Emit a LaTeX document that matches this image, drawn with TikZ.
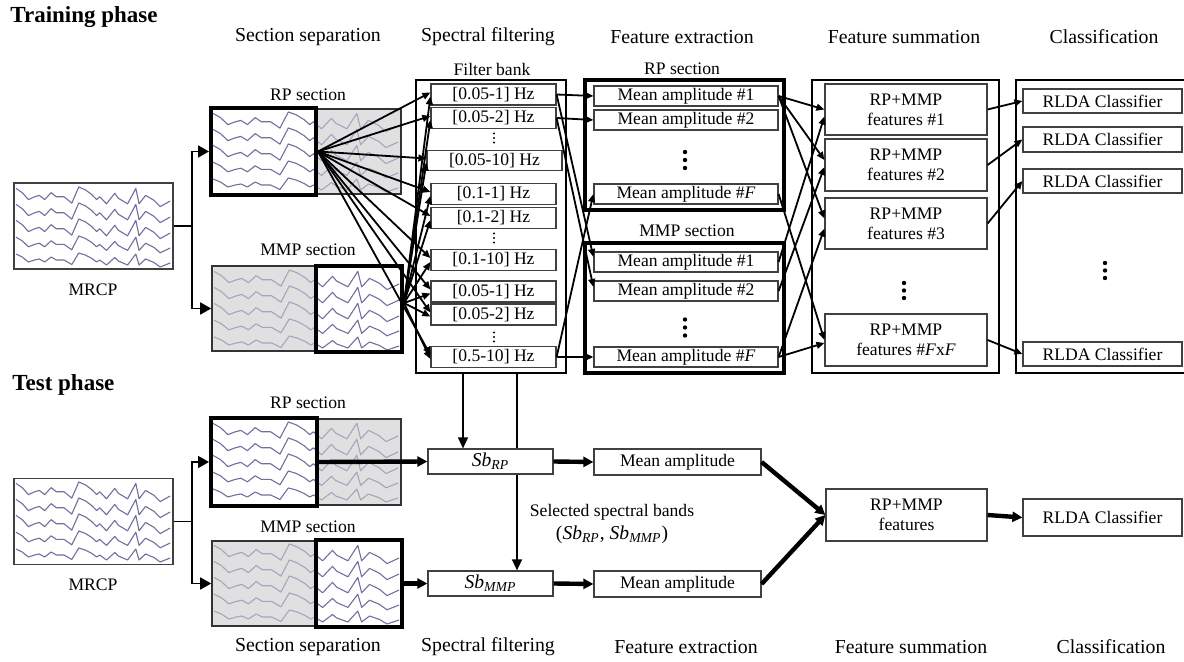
\documentclass[tikz,border=0pt]{standalone}
\usepackage{fontspec}
\setmainfont{Liberation Serif}
\usetikzlibrary{arrows.meta,calc}
\definecolor{wavec}{RGB}{112,112,158}
\definecolor{wavef}{RGB}{165,165,190}
\definecolor{secgray}{RGB}{224,224,224}
\newcommand{\fsz}{\fontsize{8.8}{10}\selectfont}
\newcommand{\hsz}{\fontsize{9.9}{11}\selectfont}
\newcommand{\tsz}{\fontsize{11.5}{13}\selectfont}
\newcommand{\sbsz}{\fontsize{9.8}{11}\selectfont}
\newcommand{\wtrace}{plot coordinates {(0,-4) (4,-1) (8,4) (12,2) (15,1) (18.5,4) (22.7,-1) (26,2) (31,2) (36,6.5) (40.5,-5) (44.7,-3) (49,0.5) (52,4) (54,2) (58.4,7) (63.7,-0.5) (66,3) (72,7) (77.3,-4) (79.4,7) (83.6,1) (89,4.5) (93,9) (99.5,5)}}
\newcommand{\waveset}[4]{%
  \begin{scope}[shift={(#1,#2)},xscale=#3]
    \foreach \b/\s in {11/1.4,27/1.4,43/1.4,59/1.2,75/1.0}{%
      \begin{scope}[shift={(0,\b)},yscale=\s]
        \draw[#4,line width=0.55pt,line join=round] \wtrace;
      \end{scope}}
  \end{scope}}
\begin{document}
\begin{tikzpicture}[x=0.5pt,y=-0.5pt,
  sz/.style 2 args={minimum width={#1*0.5pt},minimum height={#2*0.5pt}},
  nbox/.style={draw=black!75,line width=0.6pt,fill=white,inner sep=0pt,font=\fsz,align=center},
  thickbox/.style={draw=black,line width=2pt,inner sep=0pt},
  graybox/.style={draw=black!80,line width=0.8pt,fill=secgray,inner sep=0pt},
  outerbox/.style={draw=black,line width=1pt,inner sep=0pt},
  feobox/.style={draw=black,line width=1.6pt,inner sep=0pt},
  arr/.style={-{Triangle[length=4pt,width=3.4pt]},line width=0.9pt},
  barr/.style={-{Triangle[length=5.5pt,width=6pt]},line width=0.9pt},
  varr/.style={-{Triangle[length=5.5pt,width=5pt]},line width=0.8pt},
  tarr/.style={-{Triangle[length=5pt,width=5pt]},line width=2.2pt},
  lbl/.style={font=\fsz,inner sep=0pt},
  hdr/.style={font=\hsz,inner sep=0pt},
  ttl/.style={font=\tsz\bfseries,inner sep=0pt,anchor=west},
  dotc/.style={fill=black}]
\useasboundingbox (0,0) rectangle (1184,662);

% titles and headers
\node[ttl] (ttrain) at (10,17) {Training phase};
\node[ttl] (ttest) at (12,385) {Test phase};
\node[hdr] (h1) at (308,37) {Section separation};
\node[hdr] (h2) at (488,37) {Spectral filtering};
\node[hdr] (h3) at (682,37) {Feature extraction};
\node[hdr] (h4) at (904,37) {Feature summation};
\node[hdr] (h5) at (1104,37) {Classification};
\node[hdr] (b1) at (308,647) {Section separation};
\node[hdr] (b2) at (488,647) {Spectral filtering};
\node[hdr] (b3) at (686,647) {Feature extraction};
\node[hdr] (b4) at (911,647) {Feature summation};
\node[hdr] (b5) at (1111,647) {Classification};

% ---------- training: signals ----------
\node[nbox,sz={159}{86}] (mrcp1) at (93.5,226) {};
\waveset{16}{183}{1.55}{wavec}
\node[lbl] (lm1) at (93,290) {MRCP};

\node[graybox,sz={85}{85}] (rpg1) at (358.5,151.5) {};
\begin{scope}\clip (317,110) rectangle (400,193); \waveset{213}{108}{1.86}{wavef}\end{scope}
\begin{scope}\clip (211,108) rectangle (316,195); \waveset{213}{108}{1.86}{wavec}\end{scope}
\node[thickbox,sz={105}{87}] (rp1) at (263.5,151.5) {};
\node[lbl] (lrp1) at (308,95) {RP section};

\node[graybox,sz={104}{85}] (mmpg1) at (264,308.5) {};
\begin{scope}\clip (213,267) rectangle (315,350); \waveset{214}{266}{1.86}{wavef}\end{scope}
\begin{scope}\clip (316,266) rectangle (402,352); \waveset{214}{266}{1.86}{wavec}\end{scope}
\node[thickbox,sz={86}{86}] (mmp1) at (359,309) {};
\node[lbl] (lmmp1) at (308,250) {MMP section};

% ---------- filter bank ----------
\node[outerbox,sz={150}{293}] (fb) at (491,226.5) {};
\node[lbl] (lfb) at (492,69) {Filter bank};
\node[nbox,sz={125}{21}] (f1) at (493.5,94.5) {[0.05-1] Hz};
\node[nbox,sz={125}{21}] (f2) at (493.5,118) {[0.05-2] Hz};
\node[nbox,sz={135}{20}] (f3) at (494.5,160.5) {[0.05-10] Hz};
\node[nbox,sz={125}{21}] (f4) at (493.5,194) {[0.1-1] Hz};
\node[nbox,sz={125}{21}] (f5) at (493.5,218) {[0.1-2] Hz};
\node[nbox,sz={125}{21}] (f6) at (493.5,260) {[0.1-10] Hz};
\node[nbox,sz={125}{21}] (f7) at (493.5,291.5) {[0.05-1] Hz};
\node[nbox,sz={125}{21}] (f8) at (493.5,314.5) {[0.05-2] Hz};
\node[nbox,sz={125}{21}] (f9) at (493.5,357) {[0.5-10] Hz};
\foreach \y in {138,238,337}{\foreach \d in {-4.5,0,4.5}{\fill[dotc] (494,\y+\d) circle (0.55pt);}}

% ---------- feature extraction ----------
\node[feobox,sz={199}{130}] (ferp) at (684.5,145) {};
\node[lbl] (lferp) at (682,69) {RP section};
\node[nbox,sz={184}{20}] (m1) at (686,96) {Mean amplitude \#1};
\node[nbox,sz={184}{20}] (m2) at (686,120) {Mean amplitude \#2};
\node[nbox,sz={184}{20}] (m3) at (686,194) {Mean amplitude \#\textit{F}};
\node[feobox,sz={199}{130}] (femmp) at (684.5,308) {};
\node[lbl] (lfemmp) at (687,231) {MMP section};
\node[nbox,sz={184}{20}] (n1) at (686,262) {Mean amplitude \#1};
\node[nbox,sz={184}{20}] (n2) at (686,291) {Mean amplitude \#2};
\node[nbox,sz={184}{20}] (nF) at (686,357) {Mean amplitude \#\textit{F}};
\foreach \y in {160,327.5}{\foreach \d in {-8,0,8}{\fill[dotc] (685,\y+\d) circle (1.1pt);}}

% ---------- feature summation ----------
\node[outerbox,sz={187}{293}] (fs) at (905.5,226.5) {};
\node[nbox,sz={162}{51}] (s1) at (906,109.5) {RP+MMP\\features \#1};
\node[nbox,sz={162}{52}] (s2) at (906,165) {RP+MMP\\features \#2};
\node[nbox,sz={162}{51}] (s3) at (906,223.5) {RP+MMP\\features \#3};
\node[nbox,sz={162}{52}] (sF) at (906,340) {RP+MMP\\features \#\textit{F}x\textit{F}};
\foreach \d in {-7.5,0,7.5}{\fill[dotc] (904,290.5+\d) circle (1.1pt);}

% ---------- classification ----------
\node[outerbox,sz={175}{293}] (fc) at (1103.5,226.5) {};
\node[nbox,sz={159}{24}] (c1) at (1102.5,101) {RLDA Classifier};
\node[nbox,sz={159}{25}] (c2) at (1102.5,139.5) {RLDA Classifier};
\node[nbox,sz={159}{24}] (c3) at (1102.5,181) {RLDA Classifier};
\node[nbox,sz={159}{24}] (c4) at (1102.5,354) {RLDA Classifier};
\foreach \d in {-7.5,0,7.5}{\fill[dotc] (1105,270.5+\d) circle (1.1pt);}

% ---------- training connectors ----------
\coordinate (br1) at (192,226);
\draw[line width=0.9pt] (mrcp1.east) -- (br1);
\draw[barr] (br1) |- (rp1.west);
\draw[barr] (br1) |- (mmpg1.west);
\coordinate (mo1) at ($(mmp1.east)+(0,-6)$);
\foreach \i in {1,...,9}{
  \draw[arr] (rp1.east) -- ($(f\i.west)+(0,-2)$);
  \draw[arr] (mo1) -- ($(f\i.west)+(0,2)$);
}
\draw[arr] (f1.east) -- (m1.west);
\draw[arr] (f2.east) -- (m2.west);
\draw[arr] (f9.east) -- (nF.west);
\draw[arr] (f1.east) -- ($(n1.west)+(0,-5)$);
\draw[arr] (f2.east) -- ($(n2.west)+(0,-4)$);
\draw[arr] (f9.east) -- (m3.west);

\draw[arr] (m1.east) -- (s1.west);
\draw[arr] (m1.east) -- ($(s2.west)+(0,-5)$);
\draw[arr] (m1.east) -- ($(s3.west)+(0,-5)$);
\draw[arr] (m3.east) -- (sF.west);
\draw[arr] (n1.east) -- ($(s1.west)+(0,7)$);
\draw[arr] (n2.east) -- ($(s2.west)+(0,2)$);
\draw[arr] (nF.east) -- ($(s3.west)+(0,5)$);
\draw[arr] (nF.east) -- ($(sF.west)+(0,3)$);

\draw[arr] (s1.east) -- (c1.west);
\draw[arr] (s2.east) -- (c2.west);
\draw[arr] (s3.east) -- (c3.west);
\draw[arr] (sF.east) -- (c4.west);

% ---------- test: signals ----------
\node[nbox,sz={159}{86}] (mrcp2) at (93.5,521.5) {};
\waveset{16}{478}{1.55}{wavec}
\node[lbl] (lm2) at (93,585) {MRCP};

\node[graybox,sz={84}{86}] (rpg2) at (359,462) {};
\begin{scope}\clip (318,420) rectangle (400,504); \waveset{213}{418}{1.86}{wavef}\end{scope}
\begin{scope}\clip (211,418) rectangle (317,506); \waveset{213}{418}{1.86}{wavec}\end{scope}
\node[thickbox,sz={106}{88}] (rp2) at (264,462) {};
\node[lbl] (lrp2) at (308,403) {RP section};

\node[graybox,sz={104}{85}] (mmpg2) at (264,583.5) {};
\begin{scope}\clip (213,542) rectangle (315,625); \waveset{214}{540}{1.86}{wavef}\end{scope}
\begin{scope}\clip (316,540) rectangle (402,627); \waveset{214}{540}{1.86}{wavec}\end{scope}
\node[thickbox,sz={86}{87}] (mmp2) at (359,583.5) {};
\node[lbl] (lmmp2) at (308,527) {MMP section};

% ---------- test: processing ----------
\node[nbox,sz={125}{25},font=\sbsz] (sbrp) at (490.5,461.5) {\textit{Sb}\textsubscript{\textit{RP}}};
\node[nbox,sz={125}{25},font=\sbsz] (sbmmp) at (490.5,583.5) {\textit{Sb}\textsubscript{\textit{MMP}}};
\node[nbox,sz={167}{26}] (ma1) at (677.5,462) {Mean amplitude};
\node[nbox,sz={167}{26}] (ma2) at (677.5,584) {Mean amplitude};
\node[nbox,sz={161}{52}] (feat) at (906.5,515) {RP+MMP\\features};
\node[nbox,sz={159}{37}] (rlda) at (1102.5,517.5) {RLDA Classifier};
\node[lbl] (sel1) at (612,512) {Selected spectral bands};
\node[lbl,font=\sbsz] (sel2) at (612,535) {(\textit{Sb}\textsubscript{\textit{RP}}, \textit{Sb}\textsubscript{\textit{MMP}})};

% ---------- test connectors ----------
\coordinate (v1) at ($(fb.south west)+(48,0)$);
\coordinate (v2) at ($(fb.south west)+(102,0)$);
\draw[varr] (v1) -- (v1 |- sbrp.north);
\draw[line width=0.8pt] (v2) -- (v2 |- sbrp.north);
\draw[varr] (v2 |- sbrp.south) -- (v2 |- sbmmp.north);

\coordinate (br2) at (192,521.5);
\draw[line width=0.9pt] (mrcp2.east) -- (br2);
\draw[barr] (br2) |- (rp2.west);
\draw[barr] (br2) |- (mmpg2.west);

\draw[tarr] (rp2.east) -- (sbrp.west);
\draw[tarr] (mmp2.east) -- (sbmmp.west);
\draw[tarr] (sbrp.east) -- (ma1.west);
\draw[tarr] (sbmmp.east) -- (ma2.west);
\draw[tarr] (ma1.east) -- (feat.west);
\draw[tarr] (ma2.east) -- (feat.west);
\draw[tarr] (feat.east) -- (rlda.west);
\end{tikzpicture}
\end{document}
